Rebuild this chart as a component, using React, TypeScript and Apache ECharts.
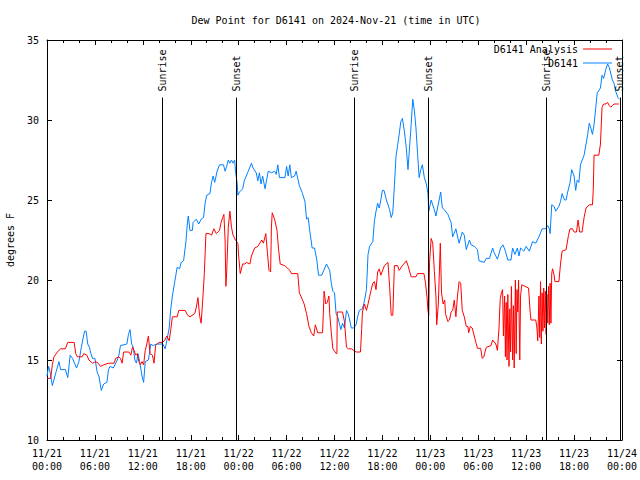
import React, { useEffect, useRef } from 'react';
import * as echarts from 'echarts';

const titleText = 'Dew Point for D6141 on 2024-Nov-21 (time in UTC)';
const yAxisName = 'degrees F';
const seriesNames = ['D6141 Analysis', 'D6141'];

// hours since 11/21 00:00 UTC
const xTickDates = ['11/21', '11/21', '11/21', '11/21', '11/22', '11/22', '11/22', '11/22', '11/23', '11/23', '11/23', '11/23', '11/24'];
const xTickTimes = ['00:00', '06:00', '12:00', '18:00', '00:00', '06:00', '12:00', '18:00', '00:00', '06:00', '12:00', '18:00', '00:00'];

const analysisHours = [
  0.0, 0.46, 0.67, 0.875, 1.3, 1.7, 2.3, 2.6, 3.4, 3.6, 3.8, 4.4, 4.6, 5.0, 5.25, 5.7, 6.1, 6.4, 6.7, 7.1,
  7.75, 8.4, 8.6, 9.0, 9.2, 9.4, 9.6, 10.25, 10.5, 10.7, 10.9, 11.1, 11.3, 11.5, 11.7, 11.9, 12.1, 12.3, 12.5, 12.7,
  12.9, 13.2, 13.4, 13.6, 14.0, 14.4, 14.7, 15.0, 15.3, 15.5, 15.7, 16.3, 16.5, 17.3, 17.6, 17.9, 18.5, 18.7, 18.9, 19.1,
  19.3, 19.5, 19.7, 19.9, 20.3, 20.6, 20.9, 21.2, 21.6, 21.8, 22.0, 22.15, 22.3, 22.4, 22.5, 22.7, 22.9, 23.1, 23.3, 23.6,
  23.9, 24.0, 24.2, 24.5, 24.8, 24.95, 25.4, 25.6, 26.0, 26.4, 26.9, 27.1, 27.4, 27.6, 27.8, 28.0, 28.1, 28.2, 28.5, 28.8,
  29.0, 29.2, 29.75, 30.0, 30.4, 30.6, 31.4, 31.6, 32.0, 32.2, 32.5, 32.8, 33.1, 33.4, 33.6, 33.9, 34.5, 34.6, 34.7, 34.9,
  35.1, 35.3, 35.4, 35.6, 35.8, 36.2, 36.3, 36.35, 37.0, 37.25, 37.5, 37.75, 38.1, 38.4, 38.7, 39.25, 39.4, 39.5, 39.75, 40.0,
  40.2, 40.4, 40.6, 40.8, 41.0, 41.2, 41.4, 41.6, 41.8, 42.25, 42.7, 42.9, 43.1, 43.3, 43.5, 43.9, 44.1, 44.5, 45.0, 45.2,
  45.6, 46.2, 46.4, 47.2, 47.4, 47.6, 47.7, 47.8, 47.9, 48.1, 48.3, 48.5, 48.7, 48.8, 49.0, 49.25, 49.4, 49.6, 49.8, 49.9,
  50.2, 50.4, 50.6, 50.8, 51.0, 51.2, 51.4, 51.6, 51.8, 52.0, 52.25, 52.5, 52.7, 52.8, 53.0, 53.25, 53.5, 53.7, 53.9, 54.3,
  54.5, 54.7, 55.0, 55.6, 55.8, 56.2, 56.4, 56.6, 56.75, 56.9, 57.05, 57.15, 57.3, 57.4, 57.5, 57.6, 57.7, 57.85, 57.95, 58.05,
  58.15, 58.3, 58.4, 58.5, 58.65, 58.75, 58.85, 58.95, 59.05, 59.2, 59.3, 59.45, 60.3, 60.5, 60.6, 61.2, 61.35, 61.45, 61.6, 61.7,
  61.8, 61.9, 62.0, 62.1, 62.2, 62.3, 62.4, 62.5, 62.6, 62.7, 62.8, 62.9, 63.0, 63.1, 63.2, 63.3, 63.5, 63.6, 64.1, 64.3,
  64.5, 65.0, 65.3, 65.5, 65.8, 66.0, 66.3, 66.5, 66.7, 67.0, 67.25, 67.5, 67.9, 68.3, 68.4, 68.5, 69.1, 69.3, 69.5, 69.7,
  70.0, 70.2, 70.4, 70.6, 70.8, 71.0, 71.3, 71.6,
];
const analysisValues = [
  13.85, 13.85, 14.7, 15.2, 15.5, 15.7, 15.7, 16.1, 16.1, 15.4, 15.2, 15.2, 15.4, 15.3, 15.0, 14.8, 14.9, 14.8, 14.6, 14.7,
  14.8, 14.8, 15.1, 15.2, 15.1, 14.8, 15.5, 15.5, 15.3, 15.8, 15.6, 15.3, 15.4, 14.9, 14.7, 14.9, 14.7, 15.6, 16.0, 16.5,
  15.4, 15.3, 14.8, 15.9, 16.1, 16.1, 16.2, 16.5, 16.2, 16.9, 17.7, 17.7, 18.1, 18.1, 17.8, 17.7, 17.9, 18.3, 18.9, 17.8,
  17.3, 18.75, 20.4, 22.9, 22.9, 22.8, 23.2, 22.9, 23.1, 23.6, 23.9, 24.1, 22.5, 19.6, 20.5, 23.3, 24.3, 23.3, 22.8, 22.5,
  22.3, 21.5, 20.4, 21.0, 21.0, 21.1, 21.0, 21.5, 22.0, 22.1, 22.5, 22.3, 22.9, 21.7, 20.6, 20.5, 23.3, 24.2, 23.8, 23.1,
  21.9, 21.0, 20.9, 20.8, 20.6, 20.4, 20.4, 19.2, 18.75, 18.5, 17.9, 17.1, 16.7, 16.5, 17.2, 16.7, 16.7, 17.9, 19.3, 18.5,
  18.6, 19.0, 17.9, 16.7, 15.7, 15.4, 15.4, 18.0, 18.0, 17.4, 15.8, 15.7, 15.7, 15.6, 15.5, 15.5, 16.9, 18.0, 18.5, 18.1,
  18.5, 18.96, 19.4, 19.8, 19.9, 19.4, 20.5, 20.7, 20.3, 20.9, 21.1, 19.6, 17.8, 17.8, 20.9, 20.9, 20.6, 20.9, 21.2, 20.9,
  20.2, 20.2, 20.4, 20.4, 19.8, 18.85, 18.1, 17.8, 21.1, 22.6, 22.3, 20.6, 19.0, 17.2, 18.5, 22.3, 19.2, 18.5, 18.75, 17.9,
  17.4, 17.5, 18.0, 18.1, 18.75, 17.7, 19.0, 19.9, 19.8, 18.1, 17.7, 17.1, 17.1, 16.7, 17.1, 17.0, 16.5, 16.1, 15.73, 15.73,
  15.1, 15.2, 15.8, 15.9, 16.25, 16.0, 15.6, 17.0, 18.8, 19.2, 19.4, 16.5, 19.0, 15.2, 18.6, 15.0, 19.1, 14.6, 18.2, 15.5,
  19.6, 15.0, 18.4, 14.5, 20.0, 15.4, 19.4, 18.0, 20.0, 15.0, 19.0, 19.7, 19.5, 18.0, 17.5, 17.5, 17.0, 16.2, 19.0, 16.4,
  19.9, 16.0, 19.2, 16.8, 19.5, 17.0, 19.3, 16.6, 19.1, 17.3, 19.6, 17.2, 19.8, 17.3, 20.4, 20.7, 20.3, 19.9, 19.9, 21.0,
  21.8, 21.9, 22.8, 23.2, 23.2, 23.0, 23.0, 23.75, 23.0, 23.0, 23.9, 24.5, 24.7, 24.7, 25.6, 27.8, 27.8, 28.5, 30.8, 31.0,
  31.0, 31.1, 30.9, 30.8, 30.9, 31.0, 31.0, 31.0,
];

const obsHours = [
  0.0, 0.2, 0.4, 0.67, 1.1, 1.5, 1.7, 2.3, 2.6, 2.9, 3.2, 3.7, 4.0, 4.3, 4.7, 4.9, 5.1, 5.3, 5.5, 5.7,
  6.0, 6.3, 6.5, 6.8, 7.1, 7.5, 7.7, 7.9, 8.3, 8.8, 9.0, 9.2, 10.0, 10.2, 10.4, 10.6, 10.8, 11.0, 11.2, 11.4,
  11.6, 11.9, 12.1, 12.3, 12.7, 13.0, 13.3, 13.7, 14.5, 14.8, 15.0, 15.3, 15.5, 15.7, 16.0, 16.3, 16.6, 16.8, 17.1, 17.4,
  17.6, 17.7, 17.9, 18.2, 18.3, 18.7, 19.0, 19.3, 19.6, 19.8, 20.0, 20.4, 20.6, 20.8, 21.0, 21.3, 21.6, 22.1, 22.3, 22.5,
  22.7, 22.9, 23.1, 23.3, 23.5, 23.6, 23.8, 23.9, 24.1, 24.5, 24.7, 25.2, 25.6, 25.8, 26.2, 26.4, 26.6, 26.8, 27.0, 27.3,
  27.7, 28.1, 28.5, 28.7, 28.9, 29.1, 29.8, 30.0, 30.2, 30.4, 30.6, 31.0, 31.2, 31.6, 32.0, 32.3, 32.5, 32.7, 32.9, 33.2,
  33.5, 33.8, 34.0, 34.4, 35.0, 35.4, 35.6, 35.8, 36.0, 36.2, 36.4, 36.6, 36.8, 37.0, 37.25, 37.5, 37.7, 37.9, 38.1, 38.4,
  38.7, 38.9, 39.1, 39.5, 39.75, 40.0, 40.2, 40.4, 40.8, 41.0, 41.2, 41.4, 41.6, 41.8, 42.0, 42.2, 42.5, 42.7, 42.9, 43.1,
  43.3, 43.5, 43.7, 43.9, 44.1, 44.3, 44.5, 44.75, 45.0, 45.2, 45.4, 45.6, 45.8, 46.0, 46.2, 46.4, 46.6, 46.8, 47.0, 47.25,
  47.5, 47.7, 47.8, 48.1, 48.5, 48.7, 49.1, 49.3, 49.5, 49.75, 50.2, 50.6, 50.8, 51.2, 51.6, 52.0, 52.25, 52.5, 52.9, 53.1,
  53.5, 53.9, 54.1, 54.75, 55.0, 55.4, 55.8, 56.0, 56.4, 56.8, 57.1, 57.4, 57.7, 58.1, 58.3, 58.6, 58.9, 59.1, 59.3, 59.7,
  60.0, 60.4, 60.6, 60.8, 61.2, 61.6, 62.0, 62.4, 62.7, 62.9, 63.0, 63.2, 63.5, 63.7, 64.1, 64.3, 64.5, 64.8, 65.0, 65.2,
  65.5, 65.7, 66.0, 66.2, 66.4, 66.6, 66.8, 67.25, 67.5, 67.7, 67.9, 68.1, 68.3, 68.5, 68.7, 68.9, 69.3, 69.5, 69.7, 70.0,
  70.2, 70.4, 70.8, 71.0, 71.2, 71.5, 71.7,
];
const obsValues = [
  14.0, 14.6, 14.2, 13.4, 14.2, 14.9, 14.4, 14.4, 13.9, 15.3, 15.1, 14.5, 14.9, 15.8, 16.8, 16.8, 16.0, 15.8, 15.4, 15.1,
  15.1, 14.2, 14.0, 13.1, 13.5, 13.6, 14.4, 14.6, 14.5, 15.0, 15.3, 15.9, 16.0, 16.6, 16.9, 16.0, 15.8, 15.0, 14.8, 15.4,
  14.9, 14.0, 13.6, 14.9, 15.0, 16.0, 15.9, 16.0, 16.0, 15.7, 16.2, 17.0, 18.2, 19.0, 19.9, 20.8, 20.7, 21.1, 21.2, 22.4,
  23.7, 24.0, 23.1, 23.1, 23.6, 23.8, 23.5, 23.8, 23.9, 24.8, 25.3, 25.4, 26.1, 26.5, 26.1, 26.8, 27.2, 27.2, 26.8, 27.1,
  27.5, 27.3, 27.5, 27.3, 27.5, 26.8, 26.1, 25.3, 25.5, 25.7, 26.2, 26.8, 27.3, 27.0, 26.7, 26.2, 26.7, 26.0, 26.5, 25.7,
  26.8, 26.7, 26.8, 26.6, 27.2, 26.4, 26.4, 27.1, 26.5, 27.2, 26.4, 26.5, 26.8, 25.9, 25.4, 24.9, 23.8, 23.9, 23.1, 22.0,
  22.0, 21.2, 20.3, 20.3, 21.0, 20.6, 19.8, 19.3, 19.2, 17.9, 17.7, 17.3, 16.9, 17.3, 17.0, 18.1, 17.9, 17.5, 17.0, 17.0,
  17.2, 17.7, 18.1, 18.2, 18.7, 19.4, 21.6, 22.1, 22.4, 23.7, 24.3, 24.8, 24.5, 25.0, 25.6, 25.6, 25.0, 24.7, 24.4, 23.9,
  24.2, 25.9, 27.7, 28.4, 29.1, 29.9, 30.1, 29.3, 28.2, 26.9, 28.3, 29.7, 31.3, 30.6, 29.5, 27.9, 26.4, 26.9, 27.2, 26.4,
  26.0, 25.4, 24.3, 25.0, 24.4, 24.0, 25.0, 25.5, 24.5, 24.4, 24.1, 23.6, 22.7, 23.2, 22.3, 23.0, 22.8, 21.9, 22.5, 22.2,
  22.1, 21.9, 21.2, 21.1, 21.35, 21.35, 22.0, 21.7, 21.3, 22.0, 22.2, 21.8, 21.25, 21.25, 22.0, 21.6, 22.0, 21.5, 22.0, 21.8,
  22.1, 21.8, 22.1, 22.4, 22.3, 22.7, 23.2, 23.2, 23.4, 23.2, 22.9, 24.7, 24.6, 24.3, 24.6, 24.9, 25.4, 25.0, 25.0, 25.5,
  26.1, 26.9, 26.5, 25.6, 26.25, 26.1, 27.2, 27.8, 28.5, 29.1, 29.8, 29.5, 29.1, 29.7, 30.7, 31.7, 32.0, 32.8, 32.6, 33.2,
  33.5, 33.3, 32.5, 32.3, 31.8, 31.4, 31.3,
];

const sunHours = [14.47, 23.75, 38.48, 47.75, 62.5, 71.73];
const sunLabels = ['Sunrise', 'Sunset', 'Sunrise', 'Sunset', 'Sunrise', 'Sunset'];
const sunLineTop = 31.4;

const FONT = "'DejaVu Sans Mono', 'Liberation Mono', monospace";

export default function App() {
  const ref = useRef<HTMLDivElement>(null);
  useEffect(() => {
    if (!ref.current) return;
    const chart = echarts.init(ref.current, null, { renderer: 'svg' });
    const text = { color: '#000', fontFamily: FONT, fontSize: 10 };
    const analysisData = analysisHours.map((h, i) => [h, analysisValues[i]]);
    const obsData = obsHours.map((h, i) => [h, obsValues[i]]);
    const xBase = {
      type: 'value' as const,
      min: 0,
      max: 72,
      interval: 6,
      splitLine: { show: false },
      axisLine: { show: true, onZero: false, lineStyle: { color: '#000', width: 1 } },
      axisTick: { show: true, inside: true, length: 5, lineStyle: { color: '#000' } },
      minorTick: { show: true, splitNumber: 3, length: 3, lineStyle: { color: '#000' } },
    };
    const yBase = {
      type: 'value' as const,
      min: 10,
      max: 35,
      interval: 5,
      splitLine: { show: false },
      axisLine: { show: true, onZero: false, lineStyle: { color: '#000', width: 1 } },
      axisTick: { show: true, inside: true, length: 5, lineStyle: { color: '#000' } },
    };
    chart.setOption({
      animation: false,
      backgroundColor: '#fff',
      textStyle: text,
      title: {
        text: titleText,
        left: 331,
        textAlign: 'center',
        top: 10,
        textStyle: { ...text, fontWeight: 'normal' },
      },
      grid: { left: 47, right: 18, top: 40, bottom: 40, containLabel: false, outerBoundsMode: 'none' },
      legend: [
        {
          data: [seriesNames[0]], right: 28, top: 43, align: 'right', orient: 'vertical',
          icon: 'rect', itemWidth: 29, itemHeight: 1, padding: 0, selectedMode: false,
          textStyle: { ...text, lineHeight: 12 },
        },
        {
          data: [seriesNames[1]], right: 28, top: 57, align: 'right', orient: 'vertical',
          icon: 'rect', itemWidth: 29, itemHeight: 1, padding: 0, selectedMode: false,
          textStyle: { ...text, lineHeight: 12 },
        },
      ],
      xAxis: [
        {
          ...xBase,
          position: 'bottom',
          axisLabel: {
            ...text,
            margin: 7,
            lineHeight: 13,
            formatter: (v: number) => {
              const i = Math.round(v / 6);
              return xTickDates[i] + '\n' + xTickTimes[i];
            },
          },
        },
        { ...xBase, position: 'top', axisLabel: { show: false } },
      ],
      yAxis: [
        {
          ...yBase,
          position: 'left',
          name: yAxisName,
          nameLocation: 'middle',
          nameGap: 32,
          nameTextStyle: { ...text },
          axisLabel: { ...text, margin: 8 },
        },
        { ...yBase, position: 'right', axisLabel: { show: false } },
      ],
      series: [
        {
          name: seriesNames[0],
          type: 'line',
          data: analysisData,
          showSymbol: false,
          symbol: 'none',
          color: '#ff0000',
          lineStyle: { width: 1, color: '#ff0000' },
          z: 3,
          markLine: {
            silent: true,
            symbol: ['none', 'none'],
            label: { show: false },
            lineStyle: { color: '#000', width: 1, type: 'solid' },
            data: sunHours.map((h) => [{ coord: [h, 10] }, { coord: [h, sunLineTop] }]),
          },
        },
        {
          name: seriesNames[1],
          type: 'line',
          data: obsData,
          showSymbol: false,
          symbol: 'none',
          color: '#0080ff',
          lineStyle: { width: 1, color: '#0080ff' },
          z: 2,
        },
      ],
    });
    const topPx = chart.convertToPixel({ yAxisIndex: 0 }, sunLineTop) as number;
    chart.setOption({
      graphic: sunHours.map((h, i) => ({
        type: 'text',
        x: chart.convertToPixel({ xAxisIndex: 0 }, h) as number,
        y: topPx - 6,
        rotation: Math.PI / 2,
        z: 100,
        style: {
          text: sunLabels[i],
          align: 'left',
          verticalAlign: 'middle',
          fill: '#000',
          font: `10px ${FONT}`,
        },
      })),
    });
    return () => chart.dispose();
  }, []);
  return (
    <div
      ref={ref}
      style={{ position: 'absolute', left: 0, top: 0, width: 640, height: 480, background: '#fff' }}
    />
  );
}
